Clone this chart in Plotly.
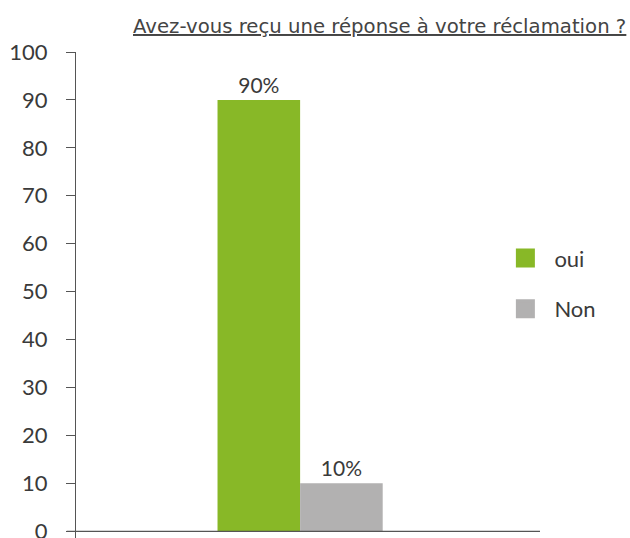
import plotly.graph_objects as go

title_text = "Avez-vous reçu une réponse à votre réclamation ?"
answers = ["oui", "Non"]
values = [90, 10]
labels = ["90%", "10%"]
colors = ["#88B827", "#B2B1B1"]
y_ticks = [0, 10, 20, 30, 40, 50, 60, 70, 80, 90, 100]

fig = go.Figure()
for a, v, lab, c in zip(answers, values, labels, colors):
    fig.add_trace(go.Bar(
        x=["q"], y=[v], name=a, marker=dict(color=c, line=dict(width=0)),
        text=[lab], textposition="outside", cliponaxis=False,
        textfont=dict(size=21, color="#3a3a3a", family="Lato"),
        showlegend=False,
    ))
for a, c in zip(answers, colors):
    fig.add_trace(go.Scatter(
        x=[None], y=[None], mode="markers", name=a, legendgroup=a,
        marker=dict(symbol="square", size=19, color=c, line=dict(color=c, width=3)),
    ))

fig.add_shape(type="line", xref="paper", yref="y", x0=-0.02, x1=1, y0=0, y1=0,
              line=dict(color="#555555", width=1.2))

fig.add_annotation(text="<u>" + title_text + "</u>", xref="paper", yref="paper",
                   x=1.19, y=1.0, yshift=12, xanchor="right", yanchor="bottom", showarrow=False,
                   font=dict(size=19.7, color="#444444", family="DejaVu Sans"))

fig.update_layout(
    width=630, height=538,
    margin=dict(l=76, r=90, t=52, b=0, autoexpand=False),
    paper_bgcolor="white", plot_bgcolor="white",
    barmode="group", bargap=0.644, bargroupgap=0,
    font=dict(family="Lato", color="#3a3a3a", size=22),
    xaxis=dict(range=[-0.483, 0.517], showticklabels=False, showgrid=False,
               zeroline=False, showline=False, ticks="", automargin=False),
    yaxis=dict(range=[-1.4, 100], tickvals=y_ticks, showgrid=False, zeroline=False,
               showline=True, linecolor="#555555", linewidth=1.2,
               ticks="outside", ticklen=9, tickcolor="#555555", tickwidth=1.2,
               ticklabelstandoff=14, ticklabeloverflow="allow", automargin=False,
               tickfont=dict(size=22, color="#3a3a3a", family="Lato")),
    legend=dict(x=0.906, y=0.523, xanchor="left", yanchor="middle",
                font=dict(size=22, color="#3a3a3a", family="Lato"),
                tracegroupgap=19, bgcolor="rgba(0,0,0,0)", itemwidth=48),
)

fig.write_html("out.html", config={"displayModeBar": False},
               post_script="document.body.style.margin='0';document.body.style.overflow='hidden';")
